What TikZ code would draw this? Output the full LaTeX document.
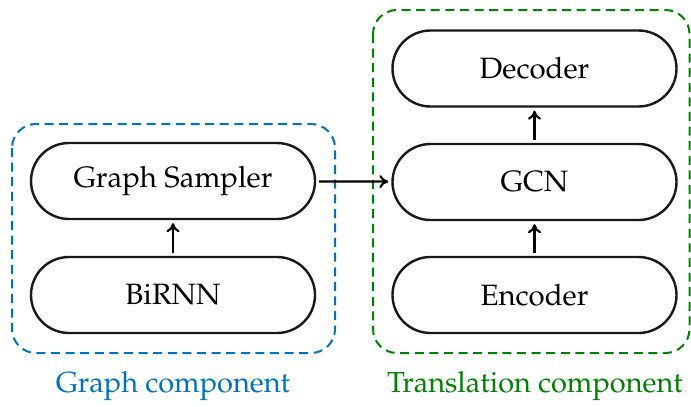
\documentclass[tikz,border=0pt]{standalone}
\usepackage[T1]{fontenc}
\usepackage{mathpazo}
\usetikzlibrary{arrows.meta}
\definecolor{grpblue}{RGB}{0,114,189}
\definecolor{trgreen}{RGB}{0,128,0}
\tikzset{
  block/.style={draw=black!90, line width=1.2pt, rounded corners=19pt,
    minimum width=142pt, minimum height=38pt, inner sep=0pt,
    font=\fontsize{14.7}{17}\selectfont},
  flow/.style={line width=1.1pt, -{To[length=4.5pt,width=6.5pt]},
    shorten >=1.5pt, shorten <=1.5pt},
  group/.style={dashed, dash pattern=on 4.5pt off 2.8pt, line width=1pt,
    rounded corners=12pt},
  caption/.style={font=\fontsize{14.5}{17}\selectfont}
}
\begin{document}
\begin{tikzpicture}[x=0.5pt,y=-0.5pt]
  \useasboundingbox (0,0) rectangle (691,407);
  % component frames
  \draw[group, grpblue] (12,124) rectangle (335,353);
  \draw[group, trgreen] (373,10) rectangle (689.5,353);
  % graph component
  \node[block] (sampler) at (173,181) {Graph Sampler};
  \node[block] (birnn) at (173,295) {BiRNN};
  % translation component
  \node[block] (decoder) at (534.5,68.5) {Decoder};
  \node[block] (gcn) at (534.5,182) {GCN};
  \node[block] (encoder) at (534.5,295) {Encoder};
  % connections
  \draw[flow] (birnn) -- (sampler);
  \draw[flow] (encoder) -- (gcn);
  \draw[flow] (gcn) -- (decoder);
  \draw[flow] (sampler) -- (gcn);
  % captions
  \node[caption, text=grpblue] (glabel) at (173,386) {Graph component};
  \node[caption, text=trgreen] (tlabel) at (535,386) {Translation component};
\end{tikzpicture}
\end{document}
